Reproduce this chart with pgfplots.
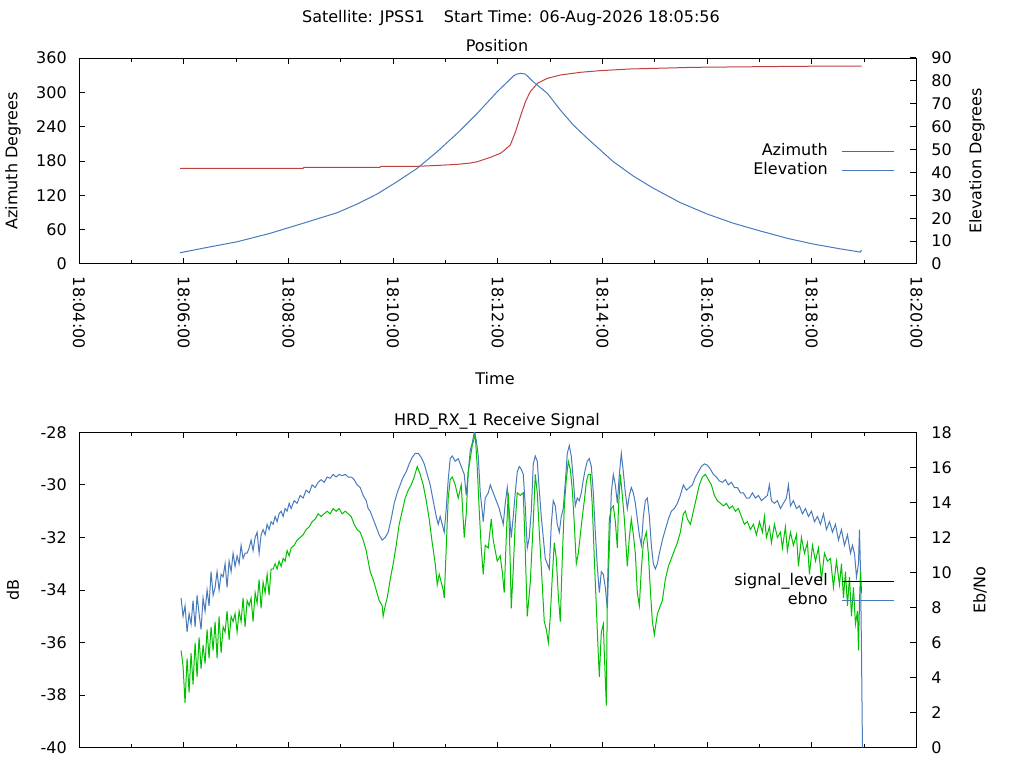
\documentclass[border=0pt]{standalone}
\usepackage{fontspec}
\setmainfont{DejaVu Sans}
\usepackage{pgfplots}
\pgfplotsset{compat=1.18}
\definecolor{azred}{RGB}{192,64,64}
\definecolor{elblue}{RGB}{72,122,188}
\definecolor{sgreen}{RGB}{0,192,0}
\newcommand\f{\fontsize{12}{14.4}\selectfont}
\pgfplotsset{
 base/.style={
  scale only axis, width=628.1pt,
  xmin=0, xmax=16,
  xtick={0,2,...,16}, minor xtick={1,3,...,15},
  tick align=inside,
  major tick length=4.5pt, minor tick length=2.7pt,
  axis line style={line width=0.75pt},
  every tick/.style={black,line width=0.75pt},
  tick label style={font=\f},
 },
 lefty/.style={ytick pos=left, yticklabel style={anchor=east, inner xsep=9pt}},
 righty/.style={axis x line=none, axis y line*=right, yticklabel style={anchor=west, inner xsep=11pt}},
 leg/.style={legend style={at={(0.9743,#1)}, anchor=north east, draw=none, fill=none,
   inner sep=0pt, font=\f, column sep=10.5pt, row sep=0pt,
   nodes={inner xsep=0pt, inner ysep=1.125pt, text height=9.5pt, text depth=2.5pt}},
   legend cell align=right, legend plot pos=right,
   legend image code/.code={\draw[##1] (0pt,0pt) -- (39pt,0pt);}},
}
\begin{document}
\begin{tikzpicture}[font=\f]
% ---------- top panel ----------
\begin{axis}[base, lefty, at={(59.25pt,378pt)}, anchor=south west, height=154.5pt,
  xtick pos=both, xticklabel pos=lower,
  xticklabels={18:04:00,18:06:00,18:08:00,18:10:00,18:12:00,18:14:00,18:16:00,18:18:00,18:20:00},
  xticklabel style={rotate=-90, anchor=west, inner xsep=9.5pt},
  ymin=0, ymax=360, ytick={0,60,...,360},
  yticklabels={0,60,120,180,240,300,360}]
\addplot[azred, line width=0.75pt] coordinates {
(1.931,167.2) (4.28,167.2) (4.30,168.8) (5.75,169.0) (5.77,170.6) (6.48,170.8)
(6.90,172.5) (7.23,174.2) (7.48,176.5) (7.61,178.8) (7.86,186.4) (8.05,193.4)
(8.13,199) (8.24,208) (8.34,231) (8.43,257) (8.53,283.7) (8.62,301) (8.76,315.8)
(8.95,324.5) (9.20,330.3) (9.58,335) (9.96,337.9) (10.53,340.8) (11.74,343.7)
(13.73,345.5) (14.95,346)};
\end{axis}
\begin{axis}[base, righty, at={(59.25pt,378pt)}, anchor=south west, height=154.5pt,
  ymin=0, ymax=90, ytick={0,10,...,90},
  yticklabels={0,10,20,30,40,50,60,70,80,90}, leg=0.5946]
\addplot[elblue, line width=0.75pt, forget plot] coordinates {
(1.931,4.9) (2.370,6.9) (3.020,9.7) (3.651,13.4) (4.282,17.8) (4.932,22.4)
(5.315,26.2) (5.697,30.6) (6.079,36.0) (6.462,41.8) (6.844,49.1) (7.226,57.1)
(7.608,65.8) (7.991,75.3) (8.182,79.5) (8.297,82.1) (8.354,82.9) (8.431,83.3)
(8.526,83.0) (8.679,79.6) (8.947,74.6) (9.195,67.3) (9.444,60.7) (9.711,54.9)
(9.960,49.8) (10.208,44.7) (10.591,38.4) (10.973,33.1) (11.489,26.8) (12.005,21.8)
(12.502,17.8) (13.019,14.4) (13.535,11.2) (14.032,8.7) (14.548,6.6) (14.930,5.2)
(14.949,6.1)};
\addlegendimage{azred, line width=0.75pt}\addlegendentry{Azimuth}
\addlegendimage{elblue, line width=0.75pt}\addlegendentry{Elevation}
\end{axis}
% ---------- bottom panel ----------
\begin{axis}[base, lefty, at={(59.25pt,15.2pt)}, anchor=south west, height=236.55pt,
  xtick pos=both, xticklabels={},
  ymin=-40, ymax=-28, ytick={-40,-38,...,-28},
  yticklabels={-40,-38,-36,-34,-32,-30,-28}, leg=0.5596]
\addplot[elblue, line width=0.75pt, forget plot] coordinates {
(1.950,-34.3) (1.988,-35.0) (2.026,-34.6) (2.065,-35.6) (2.103,-34.9) (2.141,-35.3)
(2.179,-34.4) (2.218,-35.4) (2.256,-34.2) (2.294,-34.9) (2.332,-35.5) (2.370,-34.3)
(2.409,-34.8) (2.447,-34.0) (2.485,-34.6) (2.523,-33.3) (2.562,-34.2) (2.600,-33.9)
(2.638,-33.3) (2.676,-34.0) (2.715,-33.4) (2.753,-33.5) (2.791,-33.0) (2.829,-33.9)
(2.868,-32.9) (2.906,-33.3) (2.944,-32.6) (2.982,-33.1) (3.020,-32.7) (3.059,-33.0)
(3.097,-32.3) (3.135,-32.8) (3.173,-32.6) (3.212,-32.6) (3.250,-32.4) (3.288,-32.1)
(3.326,-32.5) (3.365,-32.0) (3.403,-31.8) (3.441,-32.6) (3.479,-31.9) (3.517,-31.7)
(3.556,-31.9) (3.594,-31.5) (3.632,-31.7) (3.670,-31.4) (3.709,-31.5) (3.747,-31.2)
(3.785,-31.4) (3.823,-31.1) (3.862,-31.0) (3.900,-31.2) (3.938,-30.9) (3.976,-31.0)
(4.015,-30.7) (4.053,-30.9) (4.110,-30.6) (4.167,-30.7) (4.225,-30.4) (4.282,-30.5)
(4.339,-30.2) (4.397,-30.3) (4.454,-30.0) (4.512,-30.1) (4.569,-29.9) (4.626,-29.8)
(4.684,-29.9) (4.741,-29.7) (4.798,-29.75) (4.856,-29.6) (4.913,-29.7) (4.970,-29.6)
(5.028,-29.65) (5.085,-29.6) (5.143,-29.7) (5.200,-29.7) (5.257,-29.8) (5.315,-30.0)
(5.372,-30.1) (5.429,-30.4) (5.487,-30.6) (5.525,-30.9) (5.563,-31.0) (5.620,-31.3)
(5.678,-31.6) (5.735,-31.9) (5.792,-32.1) (5.850,-32.0) (5.907,-31.8) (5.964,-31.3)
(6.022,-30.7) (6.079,-30.3) (6.136,-30.0) (6.194,-29.7) (6.251,-29.5) (6.309,-29.2)
(6.366,-28.95) (6.423,-28.8) (6.481,-28.8) (6.538,-28.95) (6.595,-29.2) (6.653,-29.6)
(6.710,-30.0) (6.767,-30.6) (6.825,-31.2) (6.863,-31.5) (6.901,-31.2) (6.939,-31.5)
(6.978,-31.8) (7.016,-30.9) (7.054,-29.8) (7.092,-29.0) (7.131,-28.9) (7.188,-29.1)
(7.245,-29.0) (7.303,-29.3) (7.360,-29.6) (7.398,-30.4) (7.437,-29.5) (7.475,-28.7)
(7.513,-28.4) (7.551,-28.0) (7.590,-28.3) (7.628,-28.9) (7.666,-30.3) (7.704,-31.0)
(7.723,-31.4) (7.761,-30.5) (7.819,-30.3) (7.857,-30.0) (7.914,-30.3) (7.972,-30.6)
(8.029,-30.9) (8.067,-31.2) (8.105,-31.5) (8.144,-30.7) (8.182,-30.1) (8.220,-31.0)
(8.258,-32.0) (8.297,-31.2) (8.335,-30.3) (8.373,-29.5) (8.411,-29.3) (8.449,-29.4)
(8.488,-29.6) (8.526,-30.8) (8.564,-32.4) (8.602,-32.0) (8.641,-31.0) (8.679,-29.2)
(8.717,-28.9) (8.755,-29.1) (8.794,-30.2) (8.832,-31.2) (8.870,-32.0) (8.908,-32.8)
(8.947,-33.0) (8.985,-33.2) (9.023,-31.5) (9.061,-30.6) (9.099,-30.8) (9.138,-31.5)
(9.176,-31.8) (9.214,-31.2) (9.252,-30.9) (9.291,-29.9) (9.329,-28.8) (9.367,-28.5)
(9.405,-28.9) (9.444,-29.8) (9.482,-30.8) (9.520,-30.5) (9.558,-30.6) (9.597,-30.3)
(9.635,-29.8) (9.673,-29.4) (9.711,-29.1) (9.749,-29.0) (9.788,-29.3) (9.826,-30.3)
(9.864,-31.8) (9.902,-33.1) (9.941,-34.1) (9.979,-33.3) (10.017,-33.4) (10.055,-33.9)
(10.094,-34.7) (10.132,-32.4) (10.170,-30.3) (10.208,-29.6) (10.247,-30.0) (10.285,-30.7)
(10.323,-29.6) (10.361,-28.8) (10.399,-29.5) (10.438,-30.3) (10.476,-30.9) (10.514,-30.4)
(10.552,-30.1) (10.591,-30.3) (10.629,-30.7) (10.667,-31.3) (10.705,-31.9) (10.744,-32.3)
(10.782,-31.2) (10.820,-30.6) (10.858,-30.5) (10.897,-31.2) (10.935,-32.3) (10.973,-33.0)
(11.011,-33.2) (11.050,-33.0) (11.088,-32.6) (11.145,-32.1) (11.202,-31.7) (11.260,-31.3)
(11.317,-31.0) (11.374,-30.9) (11.432,-30.7) (11.489,-30.4) (11.546,-30.0) (11.604,-30.2)
(11.661,-30.1) (11.718,-30.0) (11.776,-29.7) (11.833,-29.5) (11.890,-29.3) (11.948,-29.2)
(12.005,-29.25) (12.063,-29.4) (12.120,-29.6) (12.177,-29.7) (12.235,-29.85) (12.292,-29.9)
(12.349,-29.8) (12.407,-30.0) (12.464,-29.9) (12.521,-30.1) (12.579,-30.1) (12.636,-30.3)
(12.693,-30.3) (12.751,-30.5) (12.808,-30.5) (12.865,-30.3) (12.923,-30.5) (12.980,-30.4)
(13.038,-30.6) (13.095,-30.5) (13.152,-30.4) (13.190,-30.0) (13.229,-30.6) (13.286,-30.7)
(13.343,-30.6) (13.401,-30.9) (13.458,-30.7) (13.515,-30.5) (13.554,-30.0) (13.592,-30.8)
(13.649,-30.6) (13.707,-30.9) (13.764,-30.8) (13.821,-31.1) (13.879,-30.9) (13.936,-31.2)
(13.993,-31.0) (14.051,-31.4) (14.108,-31.2) (14.166,-31.5) (14.223,-31.1) (14.280,-31.7)
(14.338,-31.4) (14.395,-31.8) (14.452,-31.5) (14.510,-32.1) (14.567,-31.7) (14.624,-32.3)
(14.682,-31.9) (14.739,-32.6) (14.777,-32.3) (14.815,-32.6) (14.854,-33.5) (14.892,-33.0)
(14.911,-31.7) (14.930,-33.2) (14.949,-36.2) (14.968,-40.0)};
\addplot[sgreen, line width=0.75pt, forget plot] coordinates {
(1.950,-36.3) (1.988,-36.9) (2.026,-38.3) (2.065,-36.6) (2.103,-37.9) (2.141,-36.4)
(2.179,-37.6) (2.218,-36.0) (2.256,-37.3) (2.294,-35.8) (2.332,-37.0) (2.370,-36.1)
(2.409,-36.8) (2.447,-35.5) (2.485,-36.6) (2.523,-35.4) (2.562,-36.3) (2.600,-35.2)
(2.638,-36.6) (2.676,-35.0) (2.715,-36.4) (2.753,-35.4) (2.791,-35.6) (2.829,-34.8)
(2.868,-35.9) (2.906,-35.0) (2.944,-35.2) (2.982,-34.9) (3.020,-35.6) (3.059,-34.8)
(3.097,-35.2) (3.135,-34.3) (3.173,-35.4) (3.212,-34.4) (3.250,-34.6) (3.288,-34.3)
(3.326,-35.2) (3.365,-34.1) (3.403,-34.5) (3.441,-33.6) (3.479,-34.7) (3.517,-33.7)
(3.556,-34.1) (3.594,-33.4) (3.632,-34.2) (3.670,-33.2) (3.709,-33.2) (3.747,-33.0)
(3.785,-33.2) (3.823,-32.9) (3.862,-33.1) (3.900,-32.8) (3.938,-32.9) (3.976,-32.5)
(4.015,-32.7) (4.053,-32.4) (4.110,-32.3) (4.167,-32.1) (4.225,-32.0) (4.282,-31.9)
(4.339,-31.7) (4.397,-31.6) (4.454,-31.4) (4.512,-31.3) (4.569,-31.1) (4.626,-31.2)
(4.684,-31.1) (4.741,-31.0) (4.798,-31.1) (4.856,-30.9) (4.913,-31.0) (4.970,-30.9)
(5.028,-31.1) (5.085,-31.0) (5.143,-31.1) (5.200,-31.2) (5.257,-31.5) (5.315,-31.7)
(5.372,-31.8) (5.429,-32.1) (5.487,-32.5) (5.525,-32.9) (5.563,-33.3) (5.620,-33.6)
(5.678,-34.0) (5.735,-34.4) (5.792,-34.6) (5.811,-35.0) (5.850,-34.6) (5.888,-34.3)
(5.945,-33.6) (6.003,-33.0) (6.060,-32.3) (6.117,-31.5) (6.175,-31.0) (6.232,-30.5)
(6.290,-30.2) (6.347,-30.0) (6.404,-29.7) (6.462,-29.3) (6.519,-29.6) (6.576,-30.0)
(6.634,-30.6) (6.691,-31.3) (6.748,-32.2) (6.806,-33.0) (6.844,-33.8) (6.882,-33.4)
(6.920,-33.7) (6.958,-34.0) (6.978,-34.3) (7.016,-32.4) (7.054,-30.5) (7.092,-29.8)
(7.131,-29.7) (7.188,-30.0) (7.245,-30.5) (7.303,-30.0) (7.360,-32.0) (7.398,-31.1)
(7.437,-29.5) (7.475,-29.0) (7.513,-28.5) (7.570,-28.1) (7.608,-29.3) (7.647,-31.0)
(7.685,-32.4) (7.723,-33.4) (7.761,-32.3) (7.819,-32.4) (7.876,-31.3) (7.914,-32.1)
(7.952,-32.5) (7.991,-32.9) (8.048,-32.7) (8.086,-33.3) (8.124,-34.1) (8.163,-32.0)
(8.201,-30.3) (8.239,-33.0) (8.258,-34.7) (8.297,-33.2) (8.335,-31.4) (8.373,-30.3)
(8.431,-30.4) (8.488,-30.3) (8.526,-32.5) (8.564,-35.0) (8.622,-33.7) (8.679,-31.4)
(8.717,-29.6) (8.755,-30.3) (8.794,-31.8) (8.851,-33.8) (8.889,-35.2) (8.928,-35.5)
(8.966,-36.0) (9.004,-35.0) (9.042,-33.5) (9.080,-32.2) (9.119,-32.8) (9.157,-34.2)
(9.195,-35.2) (9.233,-32.8) (9.272,-30.8) (9.310,-29.8) (9.348,-29.1) (9.386,-29.4)
(9.425,-30.2) (9.463,-31.5) (9.501,-33.0) (9.539,-32.6) (9.578,-31.9) (9.616,-31.2)
(9.654,-30.6) (9.692,-29.9) (9.730,-29.6) (9.769,-29.6) (9.807,-30.8) (9.845,-32.8)
(9.883,-34.6) (9.922,-36.5) (9.941,-37.3) (9.979,-35.6) (10.017,-35.3) (10.036,-36.4)
(10.075,-38.4) (10.094,-34.1) (10.132,-31.3) (10.170,-30.9) (10.208,-30.8) (10.247,-31.4)
(10.285,-32.4) (10.304,-31.0) (10.342,-29.6) (10.380,-30.4) (10.419,-31.3) (10.476,-33.1)
(10.514,-32.0) (10.552,-31.3) (10.591,-31.9) (10.629,-32.6) (10.667,-34.1) (10.705,-34.6)
(10.744,-33.2) (10.782,-32.2) (10.839,-31.8) (10.877,-32.6) (10.916,-34.0) (10.954,-35.2)
(10.992,-35.7) (11.050,-34.9) (11.107,-34.6) (11.145,-34.4) (11.202,-33.6) (11.260,-33.1)
(11.317,-32.8) (11.374,-32.5) (11.432,-32.2) (11.489,-31.8) (11.546,-31.1) (11.585,-31.0)
(11.623,-31.3) (11.681,-31.5) (11.738,-31.0) (11.795,-30.5) (11.852,-30.0) (11.910,-29.7)
(11.967,-29.6) (12.025,-29.8) (12.082,-30.0) (12.139,-30.4) (12.197,-30.6) (12.254,-30.7)
(12.311,-30.8) (12.369,-30.7) (12.426,-30.9) (12.483,-30.8) (12.541,-31.0) (12.598,-30.9)
(12.655,-31.2) (12.713,-31.5) (12.770,-31.4) (12.828,-31.7) (12.885,-31.5) (12.942,-31.9)
(13.000,-31.4) (13.057,-31.8) (13.095,-31.2) (13.133,-32.0) (13.190,-31.6) (13.229,-32.2)
(13.286,-31.5) (13.343,-32.0) (13.401,-31.8) (13.439,-32.4) (13.496,-31.6) (13.534,-32.5)
(13.592,-31.8) (13.649,-32.3) (13.707,-31.9) (13.745,-33.1) (13.802,-32.0) (13.860,-32.6)
(13.917,-32.2) (13.955,-33.4) (14.013,-32.3) (14.070,-32.9) (14.127,-32.4) (14.185,-33.6)
(14.242,-32.6) (14.299,-32.9) (14.357,-32.8) (14.414,-33.9) (14.471,-32.9) (14.529,-33.8)
(14.567,-33.0) (14.605,-34.3) (14.643,-33.3) (14.682,-34.6) (14.720,-33.5) (14.758,-35.0)
(14.796,-33.9) (14.834,-35.3) (14.873,-34.8) (14.892,-36.3) (14.911,-34.5) (14.930,-33.3)
(14.949,-34.0)};
\addplot[azred, line width=0.75pt, forget plot] coordinates {(14.949,-33.93) (14.949,-34.12)};
\addlegendimage{black, line width=0.75pt}\addlegendentry{signal\_level}
\addlegendimage{elblue, line width=0.75pt}\addlegendentry{ebno}
\end{axis}
\begin{axis}[base, righty, at={(59.25pt,15.2pt)}, anchor=south west, height=236.55pt,
  ymin=0, ymax=18, ytick={0,2,...,18},
  yticklabels={0,2,4,6,8,10,12,14,16,18}]
\end{axis}
% ---------- texts ----------
\node[anchor=base] at (383.25pt,558.75pt) {Satellite: JPSS1\hspace{1.2em}Start Time: 06-Aug-2026 18:05:56};
\node[anchor=base] at (372.75pt,537.2pt) {Position};
\node[anchor=base] at (371.25pt,287.5pt) {Time};
\node[anchor=base] at (372.75pt,256.7pt) {HRD\_RX\_1 Receive Signal};
\node[rotate=90] at (9.75pt,455.25pt) {Azimuth Degrees};
\node[rotate=90] at (732.75pt,455.25pt) {Elevation Degrees};
\node[rotate=90] at (9.75pt,133.5pt) {dB};
\node[rotate=90] at (735pt,133.5pt) {Eb/No};
\pgfresetboundingbox
\path[use as bounding box] (0pt,0pt) rectangle (768pt,576pt);
\end{tikzpicture}
\end{document}
